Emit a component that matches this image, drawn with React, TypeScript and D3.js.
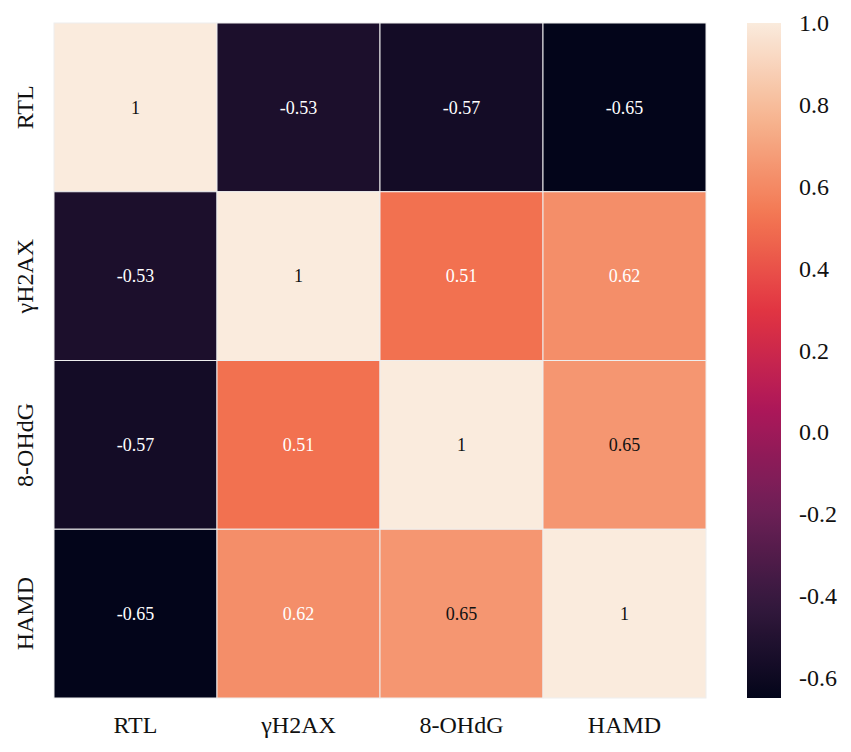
import React, { useEffect, useRef } from 'react';
import * as d3 from 'd3';

const labels = ['RTL', 'γH2AX', '8-OHdG', 'HAMD'];
const matrix = [
  [1, -0.53, -0.57, -0.65],
  [-0.53, 1, 0.51, 0.62],
  [-0.57, 0.51, 1, 0.65],
  [-0.65, 0.62, 0.65, 1],
];
const colorTicks = [-0.6, -0.4, -0.2, 0.0, 0.2, 0.4, 0.6, 0.8, 1.0];
const vmin = -0.65;
const vmax = 1.0;

// approximation of seaborn's "rocket" colormap
const rocketStops = ['#03051a', '#35193e', '#701f57', '#ad1759', '#e13342', '#f37651', '#f6b48f', '#faebdd'];
const rocketPos = [0, 1 / 7, 2 / 7, 3 / 7, 4 / 7, 5 / 7, 6 / 7, 1];

const App: React.FC = () => {
  const svgRef = useRef<SVGSVGElement>(null);

  useEffect(() => {
    const svg = d3.select(svgRef.current);
    svg.selectAll('*').remove();

    const width = 851;
    const height = 752;
    const left = 54, top = 23, right = 706, bottom = 698;
    const font = '"Liberation Serif", "Times New Roman", serif';

    const rocket = d3.scaleLinear<string>()
      .domain(rocketPos)
      .range(rocketStops)
      .interpolate(d3.interpolateRgb);
    const color = (v: number) => rocket((v - vmin) / (vmax - vmin));

    const x = d3.scaleBand().domain(labels).range([left, right]);
    const y = d3.scaleBand().domain(labels).range([top, bottom]);

    svg.attr('width', width).attr('height', height);

    const g = svg.append('g');

    matrix.forEach((row, i) => {
      row.forEach((v, j) => {
        const cx = x(labels[j])!;
        const cy = y(labels[i])!;
        g.append('rect')
          .attr('x', cx)
          .attr('y', cy)
          .attr('width', x.bandwidth())
          .attr('height', y.bandwidth())
          .style('fill', color(v))
          .style('stroke', '#eeeeee')
          .style('stroke-width', 1);

        g.append('text')
          .attr('x', cx + x.bandwidth() / 2)
          .attr('y', cy + y.bandwidth() / 2)
          .attr('dy', '0.35em')
          .attr('text-anchor', 'middle')
          .style('font-family', font)
          .style('font-size', '18px')
          .style('fill', v >= 0.64 ? '#111111' : '#ffffff')
          .text(v === 1 ? '1' : String(v));
      });
    });

    // x labels
    g.append('g')
      .selectAll('text')
      .data(labels)
      .enter()
      .append('text')
      .attr('x', d => x(d)! + x.bandwidth() / 2)
      .attr('y', 733)
      .attr('text-anchor', 'middle')
      .style('font-family', font)
      .style('font-size', '24px')
      .style('fill', '#111111')
      .text(d => d);

    // y labels (rotated)
    g.append('g')
      .selectAll('text')
      .data(labels)
      .enter()
      .append('text')
      .attr('transform', d => `translate(33,${y(d)! + y.bandwidth() / 2}) rotate(-90)`)
      .attr('text-anchor', 'middle')
      .style('font-family', font)
      .style('font-size', '24px')
      .style('fill', '#111111')
      .text(d => d);

    // colorbar
    const cbX = 747, cbW = 34;
    const cbScale = d3.scaleLinear().domain([vmin, vmax]).range([bottom, top]);

    const defs = svg.append('defs');
    const grad = defs.append('linearGradient')
      .attr('id', 'rocket-grad')
      .attr('x1', '0%').attr('x2', '0%')
      .attr('y1', '100%').attr('y2', '0%');
    const steps = 40;
    for (let k = 0; k <= steps; k++) {
      grad.append('stop')
        .attr('offset', `${(k / steps) * 100}%`)
        .attr('stop-color', rocket(k / steps));
    }

    g.append('rect')
      .attr('x', cbX)
      .attr('y', top)
      .attr('width', cbW)
      .attr('height', bottom - top)
      .style('fill', 'url(#rocket-grad)');

    g.append('g')
      .selectAll('text')
      .data(colorTicks)
      .enter()
      .append('text')
      .attr('x', cbX + cbW + 18)
      .attr('y', d => cbScale(d))
      .attr('dy', '0.35em')
      .style('font-family', font)
      .style('font-size', '24px')
      .style('fill', '#111111')
      .text(d => d3.format('.1f')(d).replace('−', '-'));
  }, []);

  return (
    <svg ref={svgRef} style={{ position: 'absolute', left: 0, top: 0, background: '#ffffff' }}></svg>
  );
};

export default App;
